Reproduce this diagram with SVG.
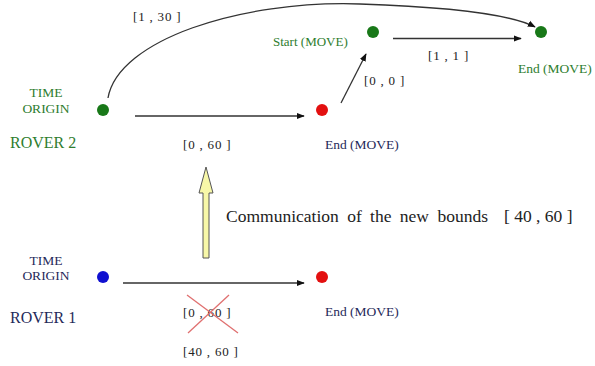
<svg xmlns="http://www.w3.org/2000/svg" width="595" height="366" viewBox="0 0 595 366" font-family="'Liberation Serif', 'DejaVu Serif', serif">
<style>
text{font-family:'Liberation Serif','DejaVu Serif',serif}
.lbl{font-size:13px;fill:#222;letter-spacing:0.8px}
.g{fill:#2e7d2e}
.n{fill:#1f2a5a}
.edge{stroke:#333;stroke-width:1.3;fill:none;marker-end:url(#ah)}
</style>
<defs>
<marker id="ah" viewBox="0 0 10 10" refX="9" refY="5" markerWidth="8" markerHeight="8" markerUnits="userSpaceOnUse" orient="auto">
<path d="M0,1 L10,5 L0,9 z" fill="#111"/>
</marker>
</defs>
<rect width="595" height="366" fill="#fff"/>
<g id="connectors">
<path class="edge" d="M108,98 C118,40 240,0 360,4 C450,7 510,14 535,27"/>
<line class="edge" x1="135" y1="116" x2="304" y2="116"/>
<line class="edge" x1="341" y1="103" x2="366" y2="54"/>
<line class="edge" x1="393" y1="38.5" x2="521" y2="38.5"/>
<line class="edge" x1="123" y1="283" x2="304" y2="283"/>
</g>
<g id="rover2-origin">
<circle cx="103" cy="110" r="6" fill="#187818"/>
<text class="g" x="46" y="97" font-size="13.5" text-anchor="middle">TIME</text>
<text class="g" x="46" y="113" font-size="13.5" text-anchor="middle">ORIGIN</text>
<text class="g" x="10" y="148" font-size="16">ROVER 2</text>
</g>
<g id="rover2-end">
<circle cx="322" cy="110" r="6" fill="#e31010"/>
<text class="n" x="325" y="149" font-size="13.5">End (MOVE)</text>
</g>
<g id="rover2-start">
<circle cx="373" cy="32" r="6" fill="#187818"/>
<text class="g" x="273" y="46" font-size="13">Start (MOVE)</text>
</g>
<g id="rover2-end2">
<circle cx="541" cy="32" r="6" fill="#187818"/>
<text class="g" x="518" y="73" font-size="13.5">End (MOVE)</text>
</g>
<g id="labels">
<text class="lbl" x="133" y="21">[1 , 30 ]</text>
<text class="lbl" x="428" y="60">[1 , 1 ]</text>
<text class="lbl" x="364" y="85">[0 , 0 ]</text>
<text class="lbl" x="183" y="149">[0 , 60 ]</text>
<text class="lbl" x="183" y="317">[0 , 60 ]</text>
<text class="lbl" x="183" y="356">[40 , 60 ]</text>
</g>
<g id="cross">
<line x1="187" y1="295" x2="238" y2="333" stroke="#e07070" stroke-width="1.3"/>
<line x1="188" y1="333" x2="229" y2="295" stroke="#e07070" stroke-width="1.3"/>
</g>
<g id="communication">
<path d="M206,167 L213,193 L209,193 L209,258 L203,258 L203,193 L199,193 z" fill="#f7f7a8" stroke="#555" stroke-width="1"/>
<text x="226" y="222" font-size="17.5" fill="#222" word-spacing="4">Communication of the new bounds <tspan x="504" word-spacing="0">[ 40 , 60 ]</tspan></text>
</g>
<g id="rover1-origin">
<circle cx="103" cy="277" r="6" fill="#1010d0"/>
<text class="n" x="46" y="265" font-size="13.5" text-anchor="middle">TIME</text>
<text class="n" x="46" y="280" font-size="13.5" text-anchor="middle">ORIGIN</text>
<text class="n" x="10" y="323" font-size="16">ROVER 1</text>
</g>
<g id="rover1-end">
<circle cx="322" cy="277" r="6" fill="#e31010"/>
<text class="n" x="325" y="316" font-size="13.5">End (MOVE)</text>
</g>
</svg>
